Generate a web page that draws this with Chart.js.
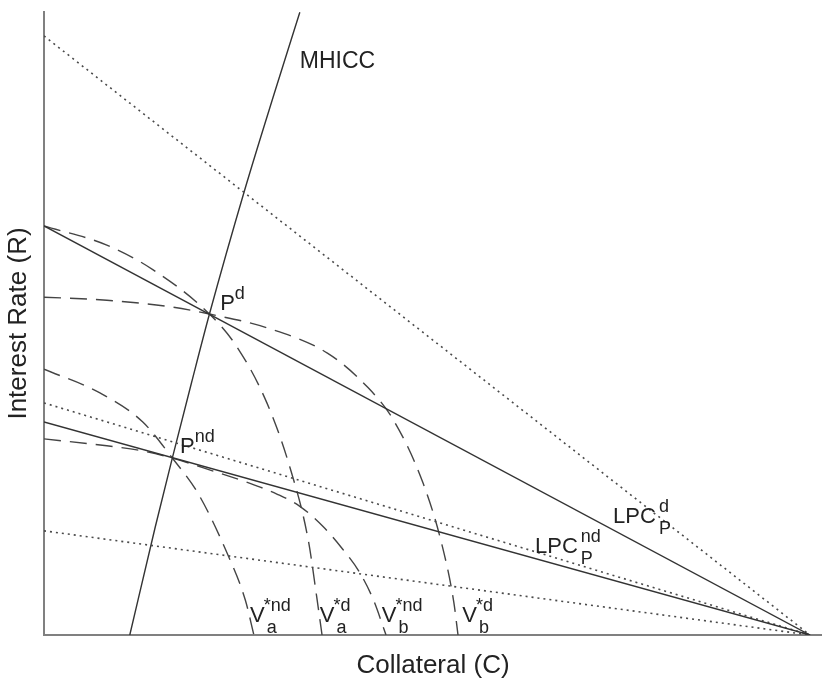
<!DOCTYPE html>
<html>
<head>
<meta charset="utf-8">
<script src="https://cdn.jsdelivr.net/npm/chart.js@4/dist/chart.umd.min.js"></script>
<style>
  html, body { margin: 0; padding: 0; background: #fff; }
  #c { display: block; }
</style>
</head>
<body>
<canvas id="c" width="822" height="680"></canvas>
<script>
// Collateral (C) on x, interest rate (R) on y; C runs 0..100 to the point where all LPC lines meet.
const C_MAX = 101.57;
const R_MAX = 81.33;

// Lender participation constraints (solid) and reference rays (dotted), all ending at C = 100
const lpcD_C = [0, 100];
const lpcD_R = [53.4, 0];
const lpcND_C = [0, 100];
const lpcND_R = [27.8, 0];
const dotTop_R = [78.2, 0];
const dotMid_R = [30.3, 0];
const dotLow_R = [13.6, 0];
const ray_C = [0, 100];

// MHICC curve
const mhicc_C = [11.2, 14.5, 16.75, 19.25, 21.6, 26.2, 30.0, 33.4];
const mhicc_R = [0, 14.0, 23.1, 32.9, 41.9, 58.1, 70.5, 81.3];

// Indifference curves (dashed)
const vaD_C = [0, 8.2, 14.2, 21.6, 25.2, 29.1, 32.1, 34.5, 35.6, 36.3];
const vaD_R = [53.4, 50.9, 47.7, 41.9, 37.6, 30.3, 21.9, 12.4, 5.0, 0];
const vbD_C = [0, 8.2, 16.8, 21.6, 29.1, 37.0, 42.2, 45.6, 49.5, 51.9, 53.5, 54.05];
const vbD_R = [44.1, 43.7, 42.8, 41.9, 40.1, 36.8, 32.4, 28.1, 19.8, 12.0, 4.3, 0];
const vaND_C = [0, 7.3, 12.9, 16.75, 20.1, 23.9, 26.3, 27.4];
const vaND_R = [34.7, 31.6, 27.8, 23.1, 18.5, 10.7, 4.5, 0];
const vbND_C = [0, 8.2, 12.5, 16.75, 22.1, 26.9, 30.4, 33.4, 36.4, 39.0, 41.25, 43.0, 44.65];
const vbND_R = [25.6, 24.7, 24.1, 23.1, 21.4, 19.8, 18.4, 16.8, 14.2, 11.2, 8.1, 4.6, 0];

// Curve and point labels
const labelMain = ['MHICC', 'P', 'P', 'V', 'V', 'V', 'V', 'LPC', 'LPC'];
const labelSup  = ['', 'd', 'nd', '*nd', '*d', '*nd', '*d', 'd', 'nd'];
const labelSub  = ['', '', '', 'a', 'a', 'b', 'b', 'P', 'P'];
const labelAt   = [[33.4, 74.0], [23.0, 42.4], [17.75, 23.75], [26.9, 1.7], [36.0, 1.7],
                   [44.1, 1.7], [54.6, 1.7], [74.3, 14.6], [64.1, 10.7]];

const FONT = '"Liberation Sans", Arial, Helvetica, sans-serif';
const INK = '#222';

const pts = (xs, ys) => xs.map((x, i) => ({ x, y: ys[i] }));

const solid = { borderColor: '#333', borderWidth: 1.4 };
const dotted = { borderColor: '#4a4a4a', borderWidth: 1.6, borderDash: [2, 4] };
const dashed = { borderColor: '#444', borderWidth: 1.4, borderDash: [17, 9], cubicInterpolationMode: 'monotone' };

const datasets = [
  { label: 'LPC d', data: pts(lpcD_C, lpcD_R), ...solid },
  { label: 'LPC nd', data: pts(lpcND_C, lpcND_R), ...solid },
  { label: 'dotted top', data: pts(ray_C, dotTop_R), ...dotted },
  { label: 'dotted mid', data: pts(ray_C, dotMid_R), ...dotted },
  { label: 'dotted low', data: pts(ray_C, dotLow_R), ...dotted },
  { label: 'MHICC', data: pts(mhicc_C, mhicc_R), ...solid, cubicInterpolationMode: 'monotone' },
  { label: 'Va*d', data: pts(vaD_C, vaD_R), ...dashed },
  { label: 'Vb*d', data: pts(vbD_C, vbD_R), ...dashed },
  { label: 'Va*nd', data: pts(vaND_C, vaND_R), ...dashed },
  { label: 'Vb*nd', data: pts(vbND_C, vbND_R), ...dashed },
].map(d => Object.assign({ showLine: true, pointRadius: 0, pointHoverRadius: 0, fill: false }, d));

// Draws text labels with superscripts and subscripts at data positions
const curveLabels = {
  id: 'curveLabels',
  afterDatasetsDraw(chart) {
    const { ctx, scales: { x, y } } = chart;
    ctx.save();
    ctx.fillStyle = INK;
    ctx.textAlign = 'left';
    ctx.textBaseline = 'alphabetic';
    labelMain.forEach((txt, i) => {
      const px = x.getPixelForValue(labelAt[i][0]);
      const py = y.getPixelForValue(labelAt[i][1]);
      const big = txt === 'MHICC' ? 23 : 22;
      ctx.font = big + 'px ' + FONT;
      ctx.fillText(txt, px, py);
      const w = ctx.measureText(txt).width;
      const gap = txt === 'LPC' ? 3 : 0;
      ctx.font = '18px ' + FONT;
      if (labelSup[i]) ctx.fillText(labelSup[i], px + w + gap - (txt === 'V' ? 1 : 0), py - 11);
      if (labelSub[i]) ctx.fillText(labelSub[i], px + w + gap + (txt === 'V' ? 2 : 0), py + 11);
    });
    ctx.restore();
  }
};

new Chart(document.getElementById('c'), {
  type: 'scatter',
  data: { datasets },
  options: {
    responsive: false,
    animation: false,
    layout: { padding: { top: 12, right: 0, left: 0, bottom: 0 } },
    plugins: { legend: { display: false }, tooltip: { enabled: false } },
    events: [],
    scales: {
      x: {
        type: 'linear', min: 0, max: C_MAX,
        grid: { display: false },
        ticks: { display: false },
        border: { display: true, color: '#808080', width: 2 },
        title: { display: true, text: 'Collateral (C)', color: INK,
                 font: { family: FONT, size: 26, lineHeight: 1 }, padding: { top: 0, bottom: 1 } },
        afterFit(scale) { scale.height = 45; }
      },
      y: {
        type: 'linear', min: 0, max: R_MAX,
        grid: { display: false },
        ticks: { display: false },
        border: { display: true, color: '#808080', width: 2 },
        title: { display: true, text: 'Interest Rate (R)', color: INK,
                 font: { family: FONT, size: 26, lineHeight: 1 }, padding: { top: 6, bottom: 0 } },
        afterFit(scale) { scale.width = 44; }
      }
    }
  },
  plugins: [curveLabels]
});
</script>
</body>
</html>
